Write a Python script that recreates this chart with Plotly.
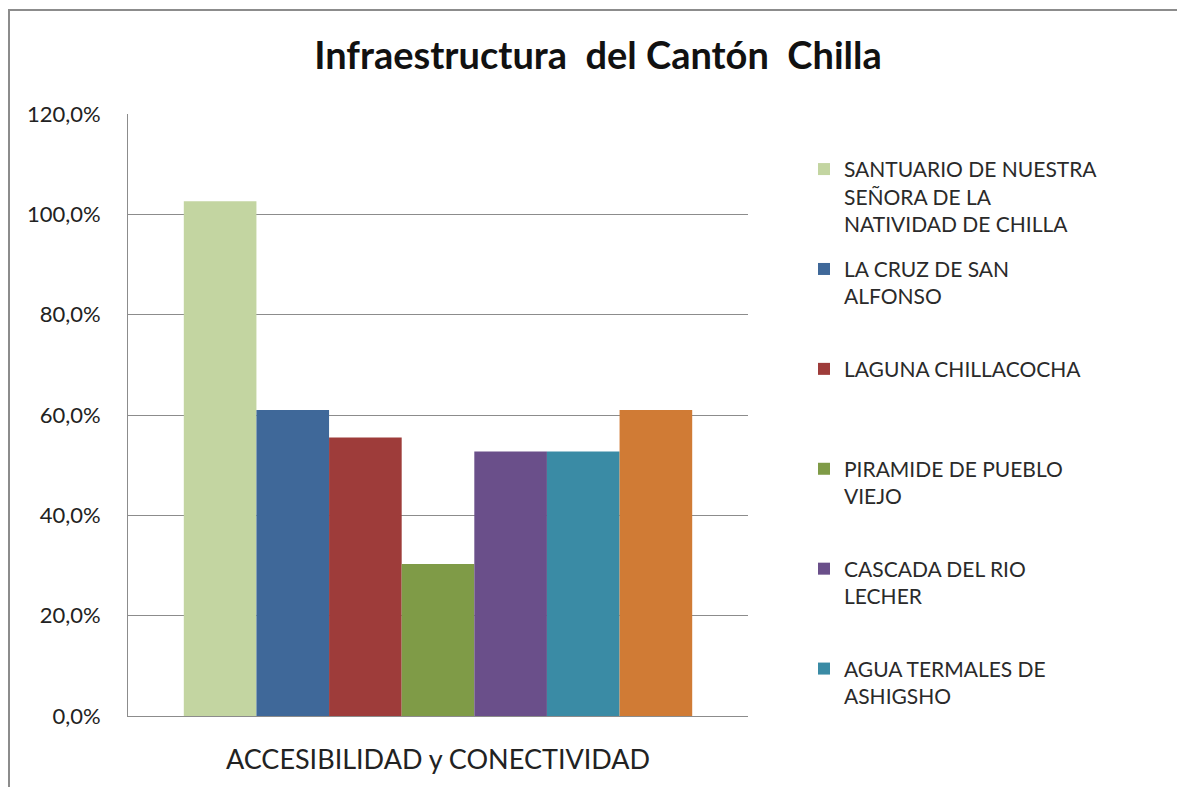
import plotly.graph_objects as go

categories = ["ACCESIBILIDAD y CONECTIVIDAD"]
series_names = [
    "SANTUARIO DE NUESTRA<br>SEÑORA DE LA<br>NATIVIDAD DE CHILLA",
    "LA CRUZ DE SAN<br>ALFONSO",
    "LAGUNA CHILLACOCHA",
    "PIRAMIDE DE PUEBLO<br>VIEJO",
    "CASCADA DEL RIO<br>LECHER",
    "AGUA TERMALES DE<br>ASHIGSHO",
    "",
]
series_values = [1.026, 0.61, 0.555, 0.303, 0.527, 0.527, 0.61]
series_colors = ["#C3D5A1", "#3F6899", "#9E3C3A", "#7F9B47", "#6A4F8A", "#3A8BA5", "#D07B35"]
show_in_legend = [True, True, True, True, True, True, False]
ytick_vals = [0, 0.2, 0.4, 0.6, 0.8, 1.0, 1.2]

FONT = "Lato"
MAX_LINES = 3
last_legend = max(i for i, s in enumerate(show_in_legend) if s)

fig = go.Figure()
for i, (name, val, col, sl) in enumerate(zip(series_names, series_values, series_colors, show_in_legend)):
    n = name.count("<br>") + 1
    pad = 0 if i == last_legend else (MAX_LINES - n)
    padded = name + "<br>\u00a0" * pad
    fig.add_trace(go.Bar(
        x=categories, y=[val], name=padded, marker=dict(color=col, line=dict(width=0)),
        showlegend=sl, legendgroup=f"g{i}",
    ))

fig.update_layout(
    width=1177, height=787,
    barmode="group", bargap=0.18, bargroupgap=0,
    separators=",.",
    paper_bgcolor="white", plot_bgcolor="white",
    margin=dict(l=128, r=429, t=114, b=71),
    font=dict(family=FONT, color="#222222"),
    title=dict(text="<b>Infraestructura\u00a0 del Cantón\u00a0 Chilla</b>", x=598 / 1177, xanchor="center",
               y=1 - 56 / 787, yanchor="middle", font=dict(size=38, family=FONT, color="#111111")),
    legend=dict(x=(804 - 128) / 620, xanchor="left", y=0.942, yanchor="top", valign="top",
                font=dict(size=21, family=FONT, color="#2A2A2A"), tracegroupgap=15,
                bgcolor="rgba(0,0,0,0)", itemwidth=30, itemclick=False, maxheight=1),
    yaxis=dict(range=[0, 1.2], tickvals=ytick_vals, tickformat=".1%", showgrid=True,
               gridcolor="#8C8C8C", gridwidth=1, showline=True, linecolor="#8C8C8C",
               linewidth=1, zeroline=False, ticks="", ticklabelstandoff=22,
               tickfont=dict(size=22, family=FONT, color="#222222")),
    xaxis=dict(showline=True, linecolor="#8C8C8C", linewidth=1, ticks="",
               ticklabelstandoff=20, tickfont=dict(size=27, family=FONT, color="#222222")),
    shapes=[dict(type="rect", xref="paper", yref="paper",
                 x0=(9 - 128) / 620, x1=3, y0=-1, y1=1 + (114 - 10) / 602,
                 line=dict(color="#8C8C8C", width=2), fillcolor="rgba(0,0,0,0)", layer="above")],
)

fig.write_html("out.html", config={"displayModeBar": False},
               post_script="document.body.style.margin='0';")
